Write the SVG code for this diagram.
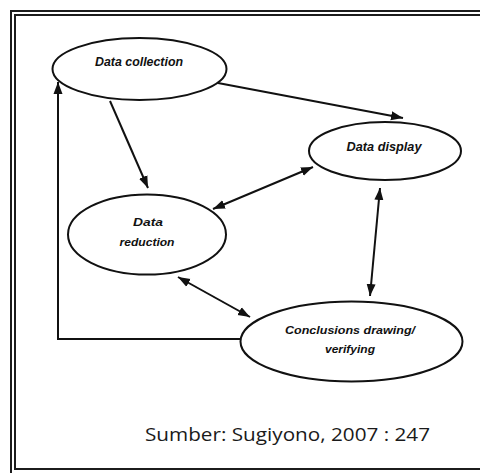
<svg xmlns="http://www.w3.org/2000/svg" width="480" height="473" viewBox="0 0 480 473">
<style>
.frame{fill:none;stroke:#1c1c1c;stroke-width:2}
.node{fill:#fff;stroke:#111;stroke-width:2}
.lbl{font-family:"Liberation Sans",Arial,sans-serif;font-weight:bold;font-style:italic;fill:#111;text-anchor:middle}
.edge{fill:none;stroke:#111;stroke-width:2}
.src{font-family:"Open Sans","Liberation Sans",sans-serif;font-size:19px;fill:#1a1a1a}
</style>
<defs>
<marker id="ah" markerUnits="userSpaceOnUse" markerWidth="13" markerHeight="10" refX="12" refY="5" orient="auto-start-reverse">
<path d="M0,0.5 L12,5 L0,9.5 z" fill="#111"/>
</marker>
</defs>
<rect width="480" height="473" fill="#fff"/>
<rect class="frame" x="11" y="11" width="490" height="466"/>
<rect class="frame" x="15" y="15" width="480" height="454"/>
<g id="connectors">
<line class="edge" x1="218" y1="83" x2="403" y2="118" marker-end="url(#ah)"/>
<line class="edge" x1="110" y1="101" x2="148" y2="188" marker-end="url(#ah)"/>
<line class="edge" x1="213" y1="209" x2="313" y2="167" marker-start="url(#ah)" marker-end="url(#ah)"/>
<line class="edge" x1="178" y1="277" x2="250" y2="317" marker-start="url(#ah)" marker-end="url(#ah)"/>
<line class="edge" x1="380" y1="188" x2="370" y2="296" marker-start="url(#ah)" marker-end="url(#ah)"/>
<polyline class="edge" points="241,339 58,339 58,82" marker-end="url(#ah)"/>
</g>
<g id="data-collection">
<ellipse class="node" cx="139.5" cy="69" rx="87" ry="31"/>
<text class="lbl" x="139" y="66" font-size="12" textLength="88" lengthAdjust="spacingAndGlyphs">Data collection</text>
</g>
<g id="data-display">
<ellipse class="node" cx="385" cy="151" rx="76" ry="29"/>
<text class="lbl" x="384" y="151" font-size="12" textLength="75" lengthAdjust="spacingAndGlyphs">Data display</text>
</g>
<g id="data-reduction">
<ellipse class="node" cx="147" cy="234.5" rx="79" ry="40"/>
<text class="lbl" x="148" y="226" font-size="11.5" textLength="30" lengthAdjust="spacingAndGlyphs">Data</text>
<text class="lbl" x="147" y="246" font-size="11.5" textLength="55" lengthAdjust="spacingAndGlyphs">reduction</text>
</g>
<g id="conclusions">
<ellipse class="node" cx="351.5" cy="341.5" rx="111" ry="40"/>
<text class="lbl" x="350" y="334" font-size="10.5" textLength="130" lengthAdjust="spacingAndGlyphs">Conclusions drawing/</text>
<text class="lbl" x="350" y="353" font-size="10.5" textLength="50" lengthAdjust="spacingAndGlyphs">verifying</text>
</g>
<text class="src" x="145" y="441" textLength="285" lengthAdjust="spacingAndGlyphs">Sumber: Sugiyono, 2007 : 247</text>
</svg>
